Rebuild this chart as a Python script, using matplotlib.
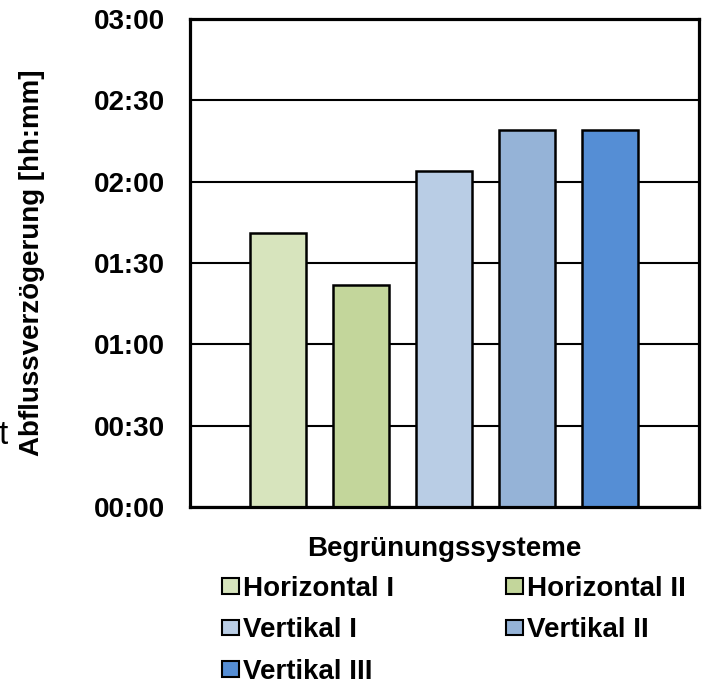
import matplotlib.pyplot as plt
from matplotlib.patches import Patch
from matplotlib.ticker import FixedLocator

plt.rcParams['font.family'] = ['Liberation Sans', 'DejaVu Sans']
plt.rcParams['font.weight'] = 'bold'

# Abflussverzoegerung in Minuten
systeme = ['Horizontal I', 'Horizontal II', 'Vertikal I', 'Vertikal II', 'Vertikal III']
verzoegerung_min = [101, 82, 124, 139, 139]
farben = ['#D7E4BD', '#C3D69B', '#B9CDE5', '#95B3D7', '#558ED5']
yticks_min = [0, 30, 60, 90, 120, 150, 180]
ytick_labels = ['00:00', '00:30', '01:00', '01:30', '02:00', '02:30', '03:00']

fig = plt.figure(figsize=(7.1, 6.85), dpi=100)
ax = fig.add_axes([190 / 710, 1 - 507 / 685, 509 / 710, 488 / 685])

x = list(range(len(systeme)))
ax.bar(x, verzoegerung_min, width=0.675, color=farben, edgecolor='black',
       linewidth=1.8, zorder=3)

ax.set_ylim(0, 180)
ax.set_xlim(-1.06, 5.07)
ax.yaxis.set_major_locator(FixedLocator(yticks_min))
ax.set_yticklabels(ytick_labels)
ax.set_xticks([])
ax.tick_params(axis='y', length=0, pad=18, labelsize=20)
ax.grid(axis='y', color='black', linewidth=1.5, zorder=0)
for s in ax.spines.values():
    s.set_linewidth(2.3)
    s.set_zorder(4)

ax.set_ylabel('Abflussverzögerung [hh:mm]', fontsize=20, fontweight='bold')
ax.yaxis.set_label_coords(-0.285, 0.5)
ax.set_xlabel('Begrünungssysteme', fontsize=20, fontweight='bold')
ax.xaxis.set_label_coords(0.5, -0.06)

# abgeschnittener Textrest am linken Rand
fig.text(-0.002, 1 - 436 / 685, 't', fontsize=24, fontweight='normal', va='center', ha='left')

# Legende zeilenweise (2 Spalten)
handles = [Patch(facecolor=c, edgecolor='black', linewidth=1.5) for c in farben]
reihenfolge = [0, 2, 4, 1, 3]
fig.legend([handles[i] for i in reihenfolge], [systeme[i] for i in reihenfolge],
           ncol=2, loc='upper left',
           bbox_to_anchor=(222 / 710, 1 - 576 / 685), frameon=False,
           fontsize=20, handlelength=0.6, handleheight=0.5, handletextpad=0.15,
           columnspacing=4.05, labelspacing=0.55, borderpad=0, borderaxespad=0)

fig.savefig('out.png', dpi=100)
